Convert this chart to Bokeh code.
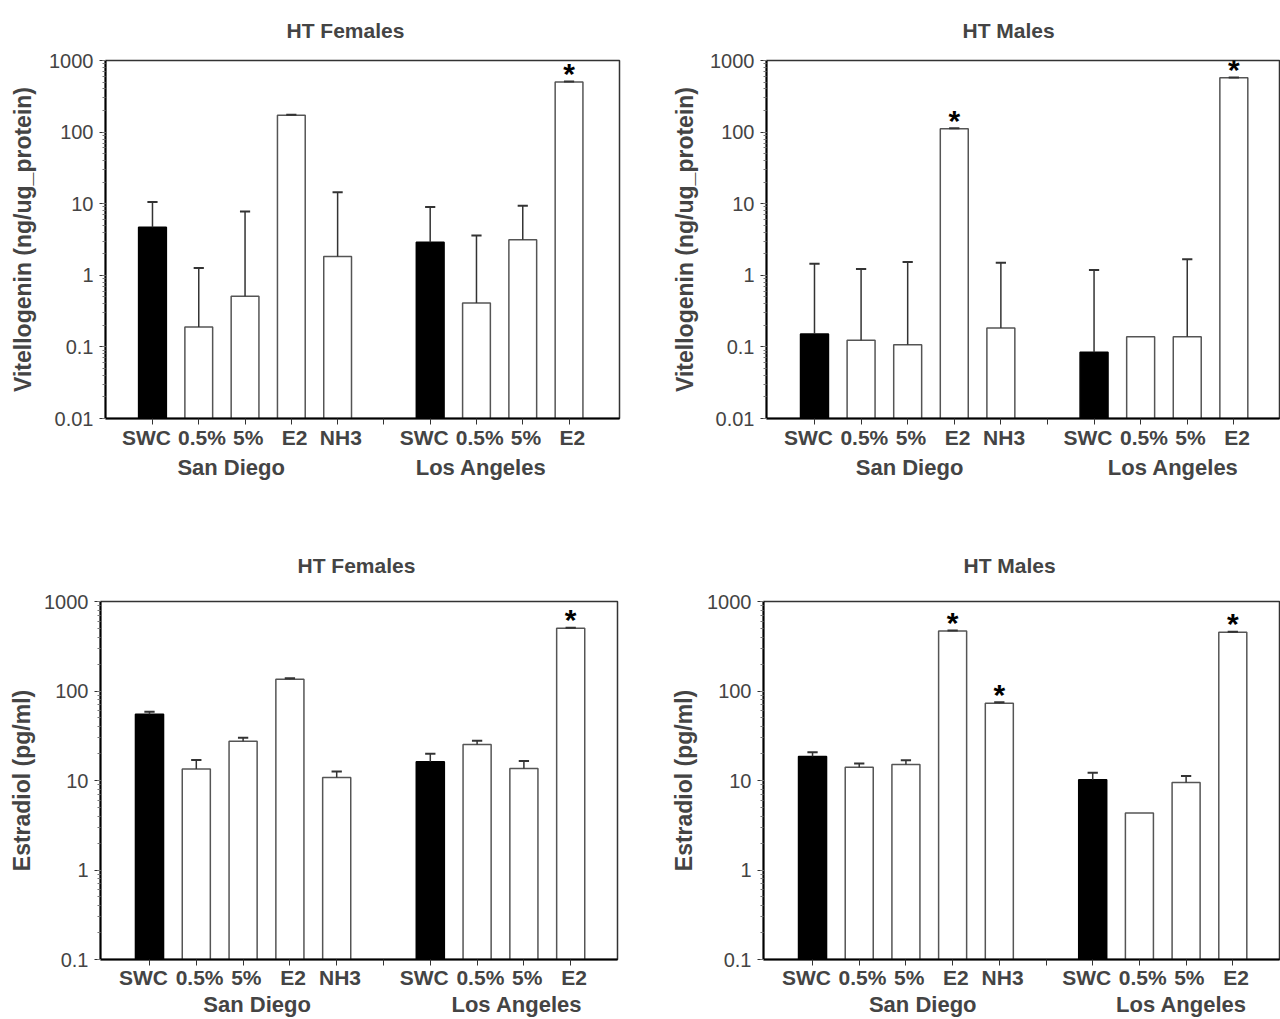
from bokeh.plotting import figure
from bokeh.models import (FixedTicker, LogTicker, LinearAxis, CustomJSTickFormatter,
                          Range1d, ColumnDataSource)
from bokeh.layouts import column, row
from bokeh.core.properties import value
from bokeh.embed import file_html
from bokeh.resources import INLINE

# ---------------- data ----------------
categories = ["SWC", "0.5%", "5%", "E2", "NH3", "SWC", "0.5%", "5%", "E2"]
sites = ["San Diego", "Los Angeles"]
x_pos = [0, 1, 2, 3, 4, 6, 7, 8, 9]

vtg_female = [4.7, 0.19, 0.51, 172, 1.83, 2.9, 0.41, 3.13, 502]
vtg_female_upper = [10.6, 1.26, 7.8, 175, 14.4, 8.96, 3.6, 9.35, 510]
vtg_female_sig = [False, False, False, False, False, False, False, False, True]

vtg_male = [0.151, 0.124, 0.107, 111, 0.183, 0.084, 0.139, 0.139, 572]
vtg_male_upper = [1.45, 1.22, 1.53, 113, 1.5, 1.19, None, 1.67, 580]
vtg_male_sig = [False, False, False, True, False, False, False, False, True]

e2_female = [55, 13.4, 27.5, 135, 10.8, 16.2, 25.3, 13.6, 502]
e2_female_upper = [58.7, 16.9, 30, 139, 12.6, 19.9, 27.8, 16.5, 510]
e2_female_sig = [False, False, False, False, False, False, False, False, True]

e2_male = [18.6, 14.1, 15.1, 468, 73, 10.2, 4.33, 9.5, 453]
e2_male_upper = [20.7, 15.5, 16.8, 475, 75, 12.2, None, 11.2, 460]
e2_male_sig = [False, False, False, True, True, False, False, False, True]

FONT = "Liberation Sans"


def make_panel(title, ylabel, vals, upper, sig, ystart, width, height,
               borders, xr, group_pos, title_offset, title_standoff,
               ylab_standoff, lab_standoffs):
    left, right, top, bottom = borders
    p = figure(width=width, height=height, y_axis_type="log",
               x_range=Range1d(*xr), y_range=Range1d(ystart, 1000),
               output_backend="svg", toolbar_location=None,
               min_border_left=left, min_border_right=right,
               min_border_top=top, min_border_bottom=bottom)
    p.title.text = title
    p.title.align = "left"
    p.title.vertical_align = "top"
    p.title.offset = title_offset
    p.title.text_font = FONT
    p.title.text_font_size = "21px"
    p.title.text_font_style = "bold"
    p.title.standoff = title_standoff
    p.grid.visible = False
    p.outline_line_color = "#333333"
    p.outline_line_width = 1.5
    p.background_fill_color = "white"
    p.border_fill_color = "white"

    # y axis
    ya = p.yaxis[0]
    ya.ticker = LogTicker(num_minor_ticks=10, desired_num_ticks=6)
    ya.formatter = CustomJSTickFormatter(code="return parseFloat(tick.toPrecision(3)).toString();")
    ya.axis_label = ylabel
    ya.axis_label_text_font = FONT
    ya.axis_label_text_font_size = "23px"
    ya.axis_label_text_font_style = "bold"
    ya.axis_label_standoff = ylab_standoff
    ya.major_label_text_font = FONT
    ya.major_label_text_font_size = "20px"
    ya.major_label_standoff = 6
    ya.axis_line_color = "black"
    ya.axis_line_width = 2
    ya.major_tick_in = 0
    ya.major_tick_out = 6
    ya.minor_tick_in = 0
    ya.minor_tick_out = 3
    ya.major_tick_line_color = "#333333"
    ya.minor_tick_line_color = "#777777"

    # x axis: tick marks only (bar centres + separator between sites)
    xa = p.xaxis[0]
    xa.ticker = FixedTicker(ticks=x_pos + [5])
    xa.major_label_overrides = {t: "" for t in x_pos + [5]}
    xa.major_label_text_font_size = "0px"
    xa.major_label_standoff = 0
    xa.axis_line_color = "black"
    xa.axis_line_width = 2
    xa.major_tick_in = 0
    xa.major_tick_out = 6
    xa.major_tick_line_color = "#333333"
    xa.minor_tick_line_color = None

    # category labels (nudged like the original: SWC a little left, others right)
    shift = {"SWC": -0.13}
    lab_pos = [x + shift.get(c, 0.07) for x, c in zip(x_pos, categories)]
    la = LinearAxis(ticker=FixedTicker(ticks=lab_pos),
                    major_label_overrides={t: c for t, c in zip(lab_pos, categories)})
    la.axis_line_color = None
    la.major_tick_line_color = None
    la.minor_tick_line_color = None
    la.major_tick_out = 0
    la.major_tick_in = 0
    la.major_label_standoff = lab_standoffs[0]
    la.major_label_text_font = FONT
    la.major_label_text_font_size = "21px"
    la.major_label_text_font_style = "bold"
    p.add_layout(la, "below")

    # site labels
    ga = LinearAxis(ticker=FixedTicker(ticks=group_pos),
                    major_label_overrides={g: s for g, s in zip(group_pos, sites)})
    ga.axis_line_color = None
    ga.major_tick_line_color = None
    ga.minor_tick_line_color = None
    ga.major_tick_out = 0
    ga.major_tick_in = 0
    ga.major_label_standoff = lab_standoffs[1]
    ga.major_label_text_font = FONT
    ga.major_label_text_font_size = "22px"
    ga.major_label_text_font_style = "bold"
    p.add_layout(ga, "below")

    fills = ["black" if c == "SWC" else "white" for c in categories]
    lines = ["black" if c == "SWC" else "#555555" for c in categories]
    src = ColumnDataSource(dict(x=x_pos, top=vals, fill=fills, line=lines))
    p.vbar(x="x", top="top", bottom=ystart, width=0.6, source=src,
           fill_color="fill", line_color="line", line_width=1.5)

    ex, ey0, ey1 = [], [], []
    for x, v, u in zip(x_pos, vals, upper):
        if u is not None:
            ex.append(x)
            ey0.append(v)
            ey1.append(u)
    p.segment(x0=ex, y0=ey0, x1=ex, y1=ey1, line_color="#333333", line_width=1.5)
    p.segment(x0=[x - 0.11 for x in ex], y0=ey1, x1=[x + 0.11 for x in ex], y1=ey1,
              line_color="#333333", line_width=2)

    sx, sy = [], []
    for x, v, u, s in zip(x_pos, vals, upper, sig):
        if s:
            sx.append(x)
            sy.append(max(v, u if u is not None else v))
    p.text(x=sx, y=sy, text=["*"] * len(sx), text_align="center",
           text_baseline="middle", text_font=value(FONT),
           text_font_size="30px", text_font_style="bold", text_color="black",
           y_offset=-8)
    return p


p1 = make_panel("HT Females", "Vitellogenin (ng/ug_protein)", vtg_female, vtg_female_upper,
                vtg_female_sig, 0.01, 660, 500, (105, 41, 60, 82), (-1.015, 10.09),
                [1.7, 7.1], 181, 34, 10, (1, 3))
p2 = make_panel("HT Males", "Vitellogenin (ng/ug_protein)", vtg_male, vtg_male_upper,
                vtg_male_sig, 0.01, 620, 500, (106, 1, 60, 82), (-1.03, 9.98),
                [2.04, 7.7], 196, 34, 9, (1, 3))
p3 = make_panel("HT Females", "Estradiol (pg/ml)", e2_female, e2_female_upper,
                e2_female_sig, 0.1, 660, 519, (100, 43, 101, 59), (-1.047, 10.0),
                [2.3, 7.85], 197, 45, 6, (0, 0))
p4 = make_panel("HT Males", "Estradiol (pg/ml)", e2_male, e2_male_upper,
                e2_male_sig, 0.1, 620, 519, (103, 1, 100, 59), (-1.05, 10.0),
                [2.36, 7.9], 200, 45, 7, (0, 0))

layout = column(row(p1, p2), row(p3, p4))
open("out.html", "w").write(file_html(layout, INLINE))
